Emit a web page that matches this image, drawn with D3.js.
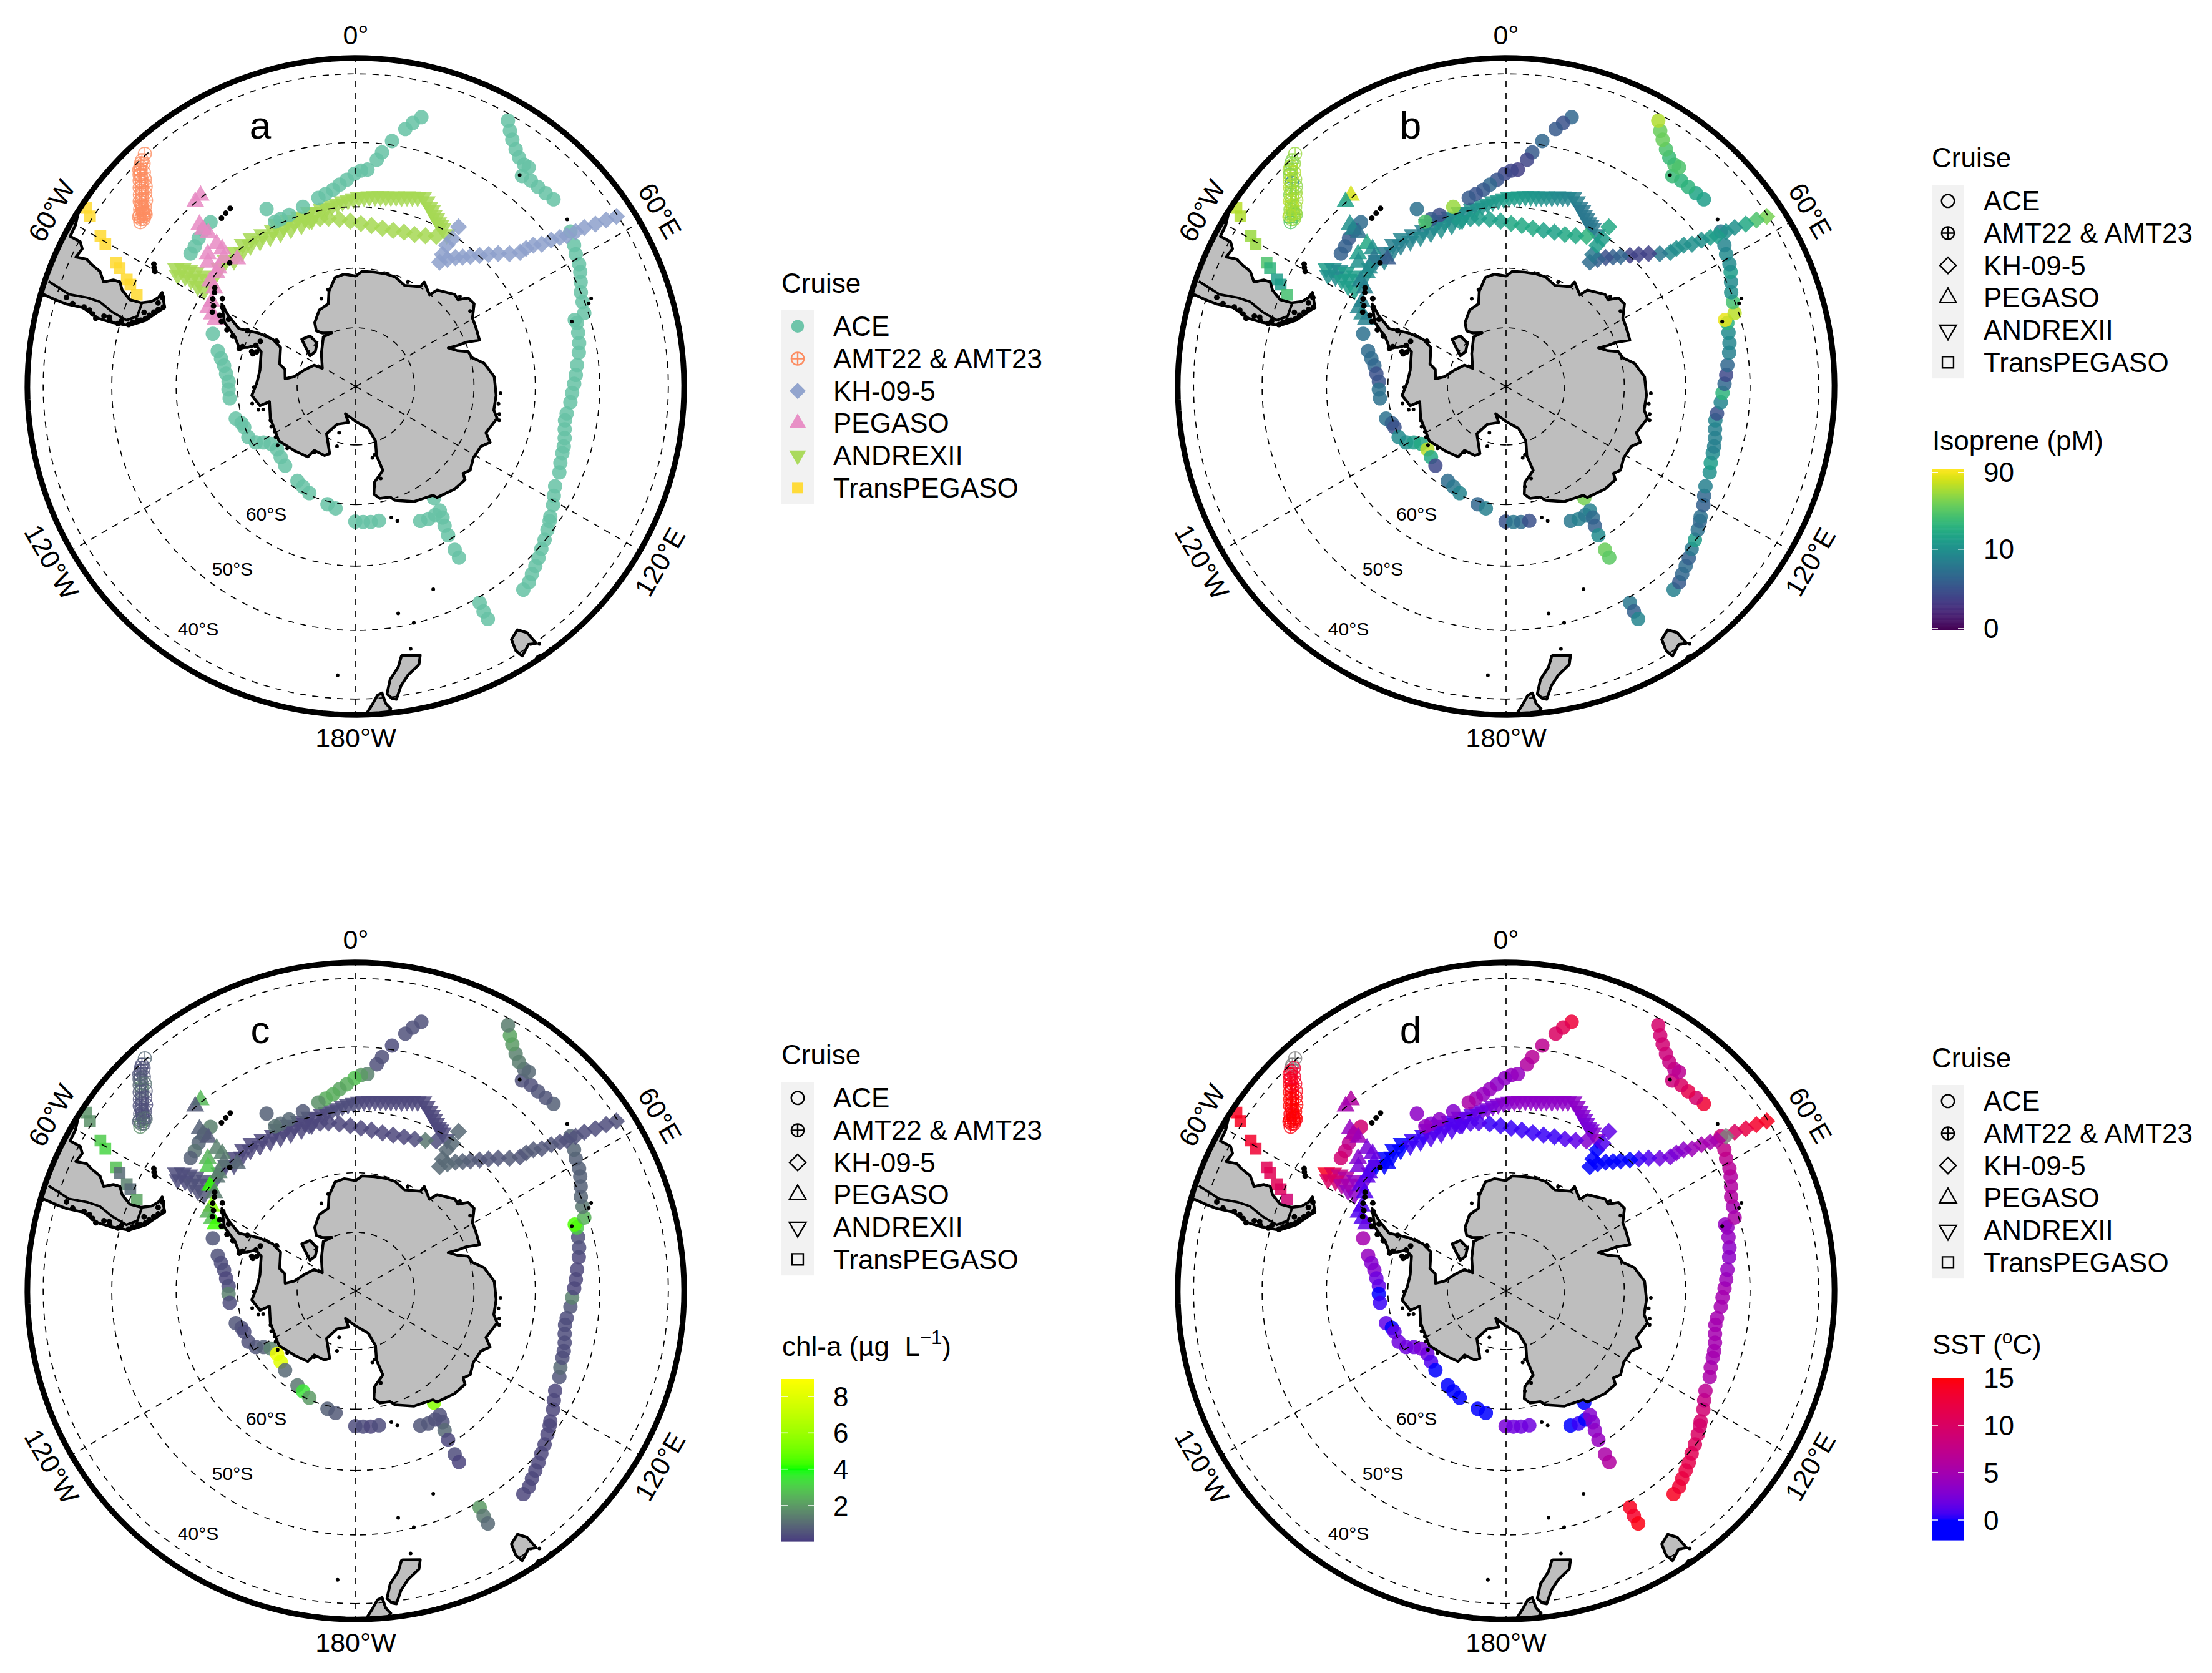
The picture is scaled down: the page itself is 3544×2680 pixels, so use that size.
<!DOCTYPE html>
<html>
<head>
<meta charset="utf-8">
<script src="https://cdn.jsdelivr.net/npm/d3@7"></script>
<style>
  body { margin: 0; background: #fff; }
  text { font-family: "Liberation Sans", Arial, sans-serif; fill: #000; white-space: pre; }
</style>
</head>
<body>
<svg id="chart" width="3544" height="2680"></svg>
<script>
// cruise stations, [lon, lat]
const acePos = [[13.7,-45.1],[12.2,-46.2],[10.9,-47.3],[8.4,-49.4],[6.4,-51.3],[5.3,-52.5],[3.1,-54.1],[1.4,-54.3],[-0.35,-54.8],[-2.5,-55.7],
  [-4.6,-56.4],[-6.6,-57.1],[-8.9,-57.6],[-11.2,-58],[-16.4,-58.8],[-21.2,-59.3],[-24.2,-59.4],[-26.1,-59.4],[-26.7,-57],[-41.5,-53.8],
  [-44.2,-54],[-46.7,-54.3],[-49,-54.7],[-51.2,-54.9],[-69.8,-64.4],[-75.6,-66],[-78.3,-66.8],[-81,-67.5],[-84.4,-68],[-87.8,-68.5],
  [-91.4,-68.5],[-95.4,-68.6],[-105,-69],[-107.9,-69.7],[-110.1,-69.9],[-115.3,-69.9],[-119.3,-70.6],[-121.3,-71.7],[-124.1,-72.6],[-128.7,-72.9],
  [-133.3,-72.5],[-138.3,-72],[-148.3,-71.2],[-152.3,-70.8],[-156.5,-70.3],[-166.5,-69.5],[-170.6,-69.1],[-179.8,-67.2],[176.9,-67.1],[173.7,-67],
  [170.2,-67],[145,-67],[154.4,-64.9],[151.3,-64.6],[148.3,-64.6],[145.9,-64.8],[146.5,-63.6],[147.5,-62.3],[148.2,-60.7],[148.8,-58.2],
  [148.9,-56.8],[150.2,-49.2],[150.4,-47.8],[150.4,-46.5],[140.5,-47.1],[138.5,-47.4],[136.8,-48],[135,-48.5],[133.2,-49],[131.2,-49.6],
  [129.1,-50.1],[126.8,-50.7],[124.8,-51.2],[123.8,-51.5],[121,-52.1],[118.9,-52.7],[116.6,-53.2],[112.9,-53.5],[110.5,-53.9],[107.9,-54.1],
  [106.1,-54.2],[103.9,-54.4],[101.6,-54.7],[99.2,-54.9],[97.3,-54.8],[94.2,-54.4],[91.7,-54.2],[89.3,-53.9],[87,-53.6],[84.5,-53.3],
  [81.4,-52.8],[79,-52.5],[76.4,-52.3],[74,-52.1],[73.1,-52.3],[72.2,-50.6],[69.6,-50.3],[67.3,-50],[65.1,-49.4],[63,-48.8],
  [61.3,-48.4],[59,-48.1],[57.1,-47.6],[54.2,-46.9],
  [46.6,-45.8],[44.5,-46],[42.4,-46.1],[40.4,-46.1],[38.3,-46.4],[38.3,-44.8],[37.2,-44.9],[35.5,-44.5],[34,-43.8],[32.4,-42.9],[31.1,-42],[29.8,-40.9]];
const aceIso = [4,2.5,3,4,3,1.8,1.6,1.8,2,2.6, 4,3,2.6,3,50,2.2,3,28,5,4.5, 2.6,3,3.4,3.4,5,4.5,4.5,4,2.4,2.6, 5,5,5,3.4,2.4,9,10,13,16,63,
  16,2,4.5,6,8,4,7,2.6,6,4.5, 2.4,40,6,7,6,7,4.5,3.4,9,36, 32,6,3.4,8,7,3,4,4.5,3.4,6, 13,5,4,5,3.4,4,7,10,13,9,
  7,7,7,8,2.4,8,20,4,2,4, 7,8,9,20,86,63,26,10,9,13, 9,9,8,6, 13,15,20,20,23,28,28,23,28,36,36,58];
const aceChl = [.5,.5,.5,.4,.5,.5,1.5,2,2.8,2.4, 2.2,2.4,2.4,1.8,.7,1,1,1.2,.8,1.5, .5,.9,1.2,.8,.6,.5,.4,.4,.3,.4, 1.5,.4,.6,.5,.4,.5,.6,.8,1.5,8.5,
  8,1,1.3,3.5,2,.8,.7,.4,.4,.3, .4,5.5,.6,.6,.5,.5,.5,1,.3,.4, .2,2,1.3,1,.3,.3,.3,.3,.3,.3, .3,.3,.3,.3,.3,.3,.3,.6,1,.5,
  .4,.4,.4,.4,.4,.6,1.5,.3,.3,.3, .3,.4,.5,3,4.5,2.5,1.3,.9,.8,.8, .8,.8,.9,.9, .8,.6,.6,.5,.5,1,1,1.4,1.5,2,2.2,1.4];
const aceSst = [12.5,11,10,7,6.5,6,4,4,3.5,3.5, 4,4,4.5,5.5,3,3.5,3,4,3.5,9, 6,7,8,9,5,4,3,3,2,1.5, 0,.5,1.5,-.2,1.5,2,2,2,2.5,2,
  1,0,-.5,-.3,0,0,0,2.5,2,2, 2,-.2,0,.5,0,3,3,3.5,4,5.5, 6,14,13.5,14.5,14,13,12.5,12,11.5,11, 10.5,10,9.5,9.5,9,8,7,5.5,5.5,5,
  5,5,5,5,5,5,5,5,4.5,4, 3.5,3.5,4,4,4,5.5,5,6,6,6, 6.5,7,7.5,9, 13,9.5,11.5,10,8.5,7,7,8,8.5,9,9,9.5];

const amtPos = [[-42.2,-39.8],[-43.4,-40.2],[-43.9,-40.4],[-44.4,-40.7],[-44.9,-41.1],[-45.4,-41.5],[-45.9,-42],[-46.4,-42.4],[-47,-42.8],[-47.5,-43.2],
  [-48.1,-43.6],[-48.7,-44],[-49.4,-44.3],[-49.8,-44.6],[-50.1,-44.9],[-50.4,-45.1],[-50.7,-45.4],[-51,-45.6],[-51.3,-45.9],[-50.7,-45.9],
  [-52,-45.4],[-52.1,-45.8],[-52.7,-46],[-51.7,-46.1],
  [-43.6,-40.7],[-45,-40.9],[-44.7,-41.6],[-45.6,-41.4],[-45.5,-42.4],[-46.4,-42],[-46.4,-43.2],[-47.4,-42.7],[-47.4,-43.8],[-48.4,-43.4],[-48.4,-44.6],[-49.4,-44],[-49.6,-45.1],[-50.6,-44.8],[-50.6,-45.7],[-51.6,-45.3]];
const amtIso = [50,45,40,60,45,60,55,8,50,45,60,55,50,60,65,55,50,45,60,40,50,45,30,50, 48,55,60,42,50,58,46,60,52,44,56,62,50,48,54,58];
const amtChl = [1,.6,.5,.5,.6,.7,1.4,1.5,1,.8,.6,.6,.5,.4,.5,.4,.5,.4,.6,1.2,.8,1.4,1.8,1, .5,.6,.7,.8,1.2,.9,.7,.6,.5,.5,.4,.5,.5,.6,.8,.9];
const amtSst = [null,null,null,13,13.5,14,14,14,14.5,14.5,15,15,15,15,15,14.5,15,15,15,14.5,14.5,15,14.5,14.5, 13,14,13.5,14,14,14.5,14.5,15,14.5,15,15,15,15,14.5,15,15];

const khPos = [[56.9,-40.2],[56.4,-41.7],[55.9,-43.3],[55.2,-44.9],[54.9,-46.3],[54.5,-47.7],[53.9,-48.7],[53.2,-50],[52.6,-51.5],[51.5,-52.6],
  [51,-53.8],[50.8,-54.9],[49.2,-56.3],[47,-57.6],[45.2,-58.8],[43.4,-59.9],[41.4,-61],[39.6,-61.9],[37.7,-62.7],[35.8,-63.7],
  [34,-64.8],[33.3,-63.5],[32.8,-61.9],[32.8,-58.4],[33.2,-60.5]];
const khIso = [40,28,16,10,10,13,13,10,10,10, 10,9,6,1.7,1.7,1.7,4,3.4,2.4,3.4, 4.5,6,13,16,13];
const khChl = [.5,.4,.4,.4,.5,.5,.5,.6,.6,.7, .7,.6,.7,.6,.6,.6,.7,.8,.9,1, 1,1,1,1,1];
const khSst = [14,13.5,12,10,null,6,5,5,4.5,3.5, 3,2.5,2,1,.5,0,0,-.5,-.5,0, -1,0,-.5,1.5,1];

const pegasoPos = [[-39.1,-49.7],[-41,-49.9],[-44,-52.9],[-44.2,-53.8],[-43.9,-54.8],[-44.3,-56.9],[-44.2,-58.1],[-48.2,-57],[-50,-57.9],[-45.8,-59.3],
  [-43,-60.9],[-50.8,-60],[-54.1,-60],[-55.3,-61.2],[-59.6,-62],[-62,-62],[-63.4,-63],[-64.5,-63.9],[-49.3,-59.8]];
const pegasoIso = [75,14,10,8,5,16,10,13,10,6,3,10,8,7,7,8,9,7,9];
const pegasoChl = [2.6,.7,.8,.9,.7,1.5,1.5,2.5,3,1.2,1,1.2,4.2,1.4,5.5,2.5,2.8,4.3,1.5];
const pegasoSst = [6,5,4,5.5,4.5,2.5,2,3,2.5,1.5,-.5,1.5,1.5,1,1,1,1,1.5,1];

const andrexPos = [[-56.7,-54.4],[-55.7,-55.3],[-55.1,-56.3],[-54.5,-57.3],[-57.2,-56.3],[-57.1,-57.4],[-57.6,-58.8],[-57.6,-60],[-53.4,-60.2],[-49.1,-59.9],
  [-45.9,-59.8],[-42.2,-59.8],[-38.5,-59.7],[-35.2,-59.8],[-31.6,-60.2],[-28,-60.5],[-24.3,-60.7],[-20.5,-60.7],[-16.8,-60.7],[-12.9,-60.2],
  [-9.3,-59.8],[-5.8,-59.4],[-2.4,-58.9],[.9,-58.5],[4.1,-58.3],[7.4,-58.1],[10.5,-57.9],[13.6,-57.6],[16.6,-57.1],[19.6,-56.6],
  [22.3,-57.7],[24.5,-58.6],[26.7,-59.4],[28.8,-59.9],[30.9,-60.4],
  [-44,-60.7],[-40.3,-60.6],[-36.8,-60.6],[-33.4,-60.9],[-29.8,-61.2],[-26.1,-61.4],[-22.4,-61.5],[-18.6,-61.5],[-14.8,-61.2],
  [-10.9,-59.9],[-7.5,-59.6],[-4.1,-59.1],[-.7,-58.7],[2.5,-58.4],[5.8,-58.2],[9,-58],[12,-57.7],[15.1,-57.3],[18.1,-56.9],[21,-57.1],[23.4,-58.1],[25.6,-59],[27.7,-59.6],
  [-26,-59.9],[-22,-60.1],[-18.5,-60.1],[-15,-59.9],
  [-58,-55.2],[-55.8,-58.2],[-53.8,-58.8]];
const andrexIso = [13,10,9,13,9,13,13,14,9,9,7,6,7,8,7,7,8,10,10,9,10,11,12,13,13,12,10,9,8,7,6,6,6,6,7,
  8,7,7,8,9,9,10,10,11, 10,11,12,13,13,12,11,10,9,8,7,6,6,6, 8,9,9,10, 10,13,13];
const andrexChl = [.4,.4,.4,.5,.4,.5,.5,.6,.5,.4,.4,.3,.3,.3,.3,.3,.3,.3,.3,.3,.3,.4,.4,.4,.3,.3,.3,.3,.3,.3,.3,.3,.3,.3,.4,
  .4,.3,.3,.3,.3,.3,.3,.3,.3, .3,.4,.4,.4,.3,.3,.3,.3,.3,.3,.3,.3,.3,.3, .3,.3,.3,.3, .4,.5,.5];
const andrexSst = [14,11,8,6,9,6,4,3.5,2.5,1,0,-.5,-.5,0,.5,.5,1,1,1,1.5,2,2.5,3,3,3.5,3.5,3.5,3.5,3.5,3.5,3,2.5,2.5,3,4,
  0,-.5,0,.5,.5,1,1,1,1, 1.5,2,2.5,3,3.5,3.5,3.5,3.5,3.5,3.5,3.5,3,2.5,2.5, 1,1,1,1.5, 10,5,4];

// return leg of the same cruise, plotted as diamonds in the figure
const andrexArmPos = [[28.2,-61.5],[24.8,-62.2],[21.2,-62.7],[17.4,-62.9],[13.5,-63.1],[9.6,-63.1],[5.6,-62.9],[1.8,-62.7],[-1.9,-62.3],[-5.6,-61.9],[-9.2,-61.5],[-12,-61.3],[-15.7,-61.3]];
const andrexArmIso = [20,16,16,14,14,16,16,16,14,14,13,12,12];
const andrexArmChl = [.4,1.3,.4,.3,.3,.3,.3,.3,.3,.3,.3,.3,.3];
const andrexArmSst = [3,1.5,1,.5,.5,.5,.5,.5,.5,.5,1,1,1];

const transPos = [[-56.5,-38.5],[-57.4,-39.6],[-59.5,-42.3],[-60.4,-43.5],[-62.7,-46.2],[-63.4,-47],[-65,-48.7],[-65.7,-49.5],[-67.3,-51]];
const transIso = [63,58,50,50,28,20,13,13,26];
const transChl = [1.8,1.8,3,3.2,2.8,1,1.5,1,2.2];
const transSst = [14,14,13.5,13,11,11,11,10.5,9];

// coastlines, [lon, lat]
const antarctica = [[0,-71.3],[3.1,-70.5],[9.3,-70.4],[14.5,-70.3],[19.8,-70.3],[25.8,-71],[32.9,-69.9],[33.3,-68.9],[38.8,-70.1],[40.2,-68.7],
  [47.1,-67.2],[49.6,-67.4],[51.8,-65.9],[55.1,-65.7],[59.7,-67.2],[63.5,-67.4],[69.5,-67.7],[68.2,-69.9],[68.1,-71.4],[67.4,-73],[70.7,-71.7],
  [72.8,-70.1],[76.2,-69.7],[79.7,-68],[86,-66.6],[93.6,-66.3],[99.7,-66.4],[102.7,-65.6],[109.6,-66.7],[112.6,-65.5],[115.6,-66.6],[121.3,-66.8],
  [126.2,-66.1],[129,-66.7],[130.5,-65.8],[136.1,-66],[143.8,-66.8],[144.7,-67.5],[153.1,-68.2],[160.9,-69.6],[162.8,-70.4],[167.9,-70.6],[170.4,-71.5],
  [169,-73.4],[162.1,-75],[163.3,-77.7],[160.1,-80.1],[163.5,-82.5],[180,-84],[-159.3,-85],[-168.5,-83.7],[-153.8,-82.8],[-148.4,-80.5],[-158.8,-77.7],
  [-155.7,-77.1],[-147,-77],[-145.8,-75.5],[-136.3,-74.9],[-125.4,-74],[-110.5,-74.5],[-100,-75.1],[-101.4,-73.4],[-94.9,-72.3],[-87.9,-73.2],[-80.5,-73.5],
  [-69.8,-72.9],[-67.7,-71.7],[-70.2,-70.5],[-71.6,-69.2],[-67.8,-68],[-64,-65.4],[-58.4,-63.6],[-61.1,-65.6],[-63.7,-68],[-61.3,-71.2],[-60.4,-73.8],
  [-62.6,-75.6],[-73.6,-76.5],[-76.5,-77.6],[-83.8,-77.9],[-80.9,-79.4],[-72.9,-80.7],[-63,-82],[-61.5,-83.5],[-46.4,-81.9],[-33.2,-79.9],[-24.1,-80],
  [-31.9,-79.3],[-35.4,-78.4],[-32.8,-77.1],[-25.5,-75.6],[-18.4,-75.2],[-15.7,-73.2],[-10.7,-71.2],[-5.8,-70.9]];
const berkner = [[-48.9,-77.8],[-42.2,-78.4],[-41.8,-80.1],[-49.4,-80.9],[-56.2,-80.6],[-52.1,-79.2]];
const southAmerica = [[-60,-36],[-57.4,-37.8],[-60.1,-38.5],[-62.3,-38.6],[-62.3,-40.2],[-63.3,-40.9],[-65.2,-40.6],[-64.7,-42.1],[-65.2,-43],[-65.8,-44.6],[-67.5,-45.7],
  [-66.3,-46.9],[-66.1,-47.9],[-67.6,-48.7],[-69,-50.3],[-68.7,-52.1],[-67.4,-53.5],[-65.8,-54.2],[-64.1,-54.4],[-67.5,-55.7],[-72.6,-53.6],[-75,-51.4],
  [-75.3,-48.8],[-75.2,-46.6],[-73.9,-44.1],[-74.1,-41.7],[-73.9,-39.9],[-73.6,-38.3],[-74.4,-37.7],[-72,-36]];
const chileLine = [[-71.1,-38.3],[-72.2,-41.6],[-71.7,-44.3],[-71.7,-46.2],[-73,-48.4],[-73.9,-50.8],[-72.2,-52.2],[-68.9,-52.2]];
const nzSouth = [[170.1,-45.7],[166.5,-45.2],[167.2,-43.9],[169.8,-42.7],[171.4,-41.4],[172.6,-39.6],[173.4,-39.8],[174.2,-40.5],[173.3,-42.5],[171.4,-44.1],[170.4,-45.6]];
const nzNorth = [[175.1,-40.7],[174.6,-39.2],[173.8,-38.4],[174.9,-37.4],[178.5,-37.5],[177,-39.2],[176,-40.4]];
const tasmania = [[146.4,-42.9],[145.2,-41.8],[144.9,-39.8],[146.2,-40.3],[148.3,-39.4],[148.8,-40.5],[148.4,-42.2]];
const australia = [[143.3,-38.1],[144.6,-37.9],[146,-38.2],[147.3,-37.8],[146,-36],[142,-36]];

// heavy rocky coast: Patagonia, Scotia arc, Peninsula and the Amundsen shore
const isletsChain = [[-72.9,-41.4],[-73.7,-42.5],[-73.7,-44.2],[-74,-45.1],[-74.6,-45.7],[-75.3,-46.3],[-74.4,-47.4],[-75,-48.4],[-74.3,-48.2],[-75.2,-49.7],[-74.4,-50.1],
  [-74.8,-51.3],[-74,-51.8],[-73.2,-52.4],[-72.1,-53.5],[-71,-53.9],[-69.8,-54.4],[-68.7,-54.9],[-67.6,-55.5],[-67.1,-54.5],[-65.3,-54.8],[-70.7,-53],[-72.9,-52.9],
  [-59.5,-51.5],[-58.8,-51.2],[-60.2,-51.9],
  [-36.9,-54.2],[-35.2,-54],[-38.6,-54.4],[-45.6,-60.5],[-55,-61.2],[-56.4,-61.6],
  [-58.5,-61.9],[-60.5,-62.6],[-62.6,-62.9],[-56.6,-63.2],[-59.2,-64],[-62.4,-64.2],[-64.2,-64.9],[-62.2,-65.8],[-66.3,-66.3],[-67.7,-67.6],[-70.6,-69.7],
  [-72,-69.3],[-71.5,-71.4],[-67.7,-71.7],[-62.8,-69.4],[-64.7,-72.1],[-60.3,-74.5],
  [-72.4,-71.7],[-70.8,-72.2]];
const isletsSmall = [[-90.4,-72.7],[-99.4,-72.2],[-103.5,-73],[-104,-73.8],[-111.7,-74.4],[-115.5,-74.1],[-119.2,-74.2],[-122.3,-73.9],[-127,-73.4],[-132.1,-74.3],[-147.8,-76.7],
  [-162.6,-79.3],[-160.2,-81.6],[166.9,-77.5],[164.6,-77.9],[164.8,-73.8],[169.4,-72.7],[49.2,-66.8],[56.6,-66.9],[26.5,-70.3],[-15.9,-72.9],[-21.4,-74],
  [92.7,-65.6],[96.9,-65.8],[100.9,-65.4],[103.3,-65.2],[164.8,-67.1],[162.8,-66.3],[69.5,-48.9],[70.4,-49.5],[73.3,-52.8],[37.8,-46.5],[51.7,-46.2],
  [159.1,-54.1],[169.4,-52],[166.2,-50.1],[168.2,-46.4],[-176.4,-43.3],[144.5,-39.5]];

// graticule labels
const lonLabels = [[0,"0°",0],[60,"60°E",60],[120,"120°E",-60],[180,"180°W",0],[-120,"120°W",60],[-60,"60°W",-60]];
const latLabels = [["60°S",-145,-63.8],["50°S",-146,-53.6],["40°S",-147,-43.3]];

const cruiseNames = ["ACE","AMT22 & AMT23","KH-09-5","PEGASO","ANDREXII","TransPEGASO"];
const cruiseColors = d3.schemeSet2.slice(0, 6);

// colour scales
const isoBar = d3.scaleLog().domain([1.255, 100.8]).range([0, 1]);
const chlColor = d3.scaleLinear().domain([0, 4, 9]).range(["#463a80", "#00ff00", "#ffff00"]).interpolate(d3.interpolateLab).clamp(true);
const sstColor = d3.scaleLinear().domain([0, 15]).range(["#0000ff", "#ff0000"]).interpolate(d3.interpolateLab).clamp(true);
const colorFns = {
  iso: v => d3.interpolateViridis(isoBar(v + 1.3)),
  chl: v => chlColor(v),
  sst: v => v === null ? "#7f7f7f" : sstColor(v)
};

// marks
const tau = Math.PI * 2;
const amtSymbol = {
  draw(ctx, size) {
    const r = Math.sqrt(size / Math.PI);
    ctx.moveTo(r, 0);
    ctx.arc(0, 0, r, 0, tau);
    ctx.moveTo(-r, 0); ctx.lineTo(r, 0);
    ctx.moveTo(0, -r); ctx.lineTo(0, r);
  }
};
const shapes = {
  circle: { path: d3.symbol(d3.symbolCircle, 415)(), rot: 0 },
  amt: { path: d3.symbol(amtSymbol, 345)(), rot: 0 },
  diamond: { path: d3.symbol(d3.symbolSquare, 380)(), rot: 45 },
  up: { path: d3.symbol(d3.symbolTriangle, 360)(), rot: 0 },
  down: { path: d3.symbol(d3.symbolTriangle, 360)(), rot: 180 },
  square: { path: d3.symbol(d3.symbolSquare, 350)(), rot: 0 }
};
const keyShapes = {
  circle: { path: d3.symbol(d3.symbolCircle, 330)(), rot: 0 },
  amt: { path: d3.symbol(amtSymbol, 320)(), rot: 0 },
  diamond: { path: d3.symbol(d3.symbolSquare, 338)(), rot: 45 },
  up: { path: d3.symbol(d3.symbolTriangle, 316)(), rot: 0 },
  down: { path: d3.symbol(d3.symbolTriangle, 316)(), rot: 180 },
  square: { path: d3.symbol(d3.symbolSquare, 320)(), rot: 0 }
};
const legendShapes = ["circle","amt","diamond","up","down","square"];

// draw order follows the figure
const series = [
  { cruise: 4, shape: "down", pos: andrexPos, iso: andrexIso, chl: andrexChl, sst: andrexSst },
  { cruise: 4, shape: "diamond", pos: andrexArmPos, iso: andrexArmIso, chl: andrexArmChl, sst: andrexArmSst },
  { cruise: 0, shape: "circle", pos: acePos, iso: aceIso, chl: aceChl, sst: aceSst },
  { cruise: 1, shape: "amt", pos: amtPos, iso: amtIso, chl: amtChl, sst: amtSst },
  { cruise: 2, shape: "diamond", pos: khPos, iso: khIso, chl: khChl, sst: khSst },
  { cruise: 3, shape: "up", pos: pegasoPos, iso: pegasoIso, chl: pegasoChl, sst: pegasoSst },
  { cruise: 5, shape: "square", pos: transPos, iso: transIso, chl: transChl, sst: transSst }
];

const svg = d3.select("#chart");

function drawMap(letter, cx, cy, varName) {
  const g = svg.append("g");
  const projection = d3.geoStereographic()
    .rotate([0, 90])
    .scale(1074)
    .translate([cx, cy])
    .clipAngle(52.2)
    .precision(0.3);
  const geo = d3.geoPath(projection);
  const sphere = { type: "Sphere" };

  const clipId = "clip-" + letter;
  g.append("clipPath").attr("id", clipId).append("path").attr("d", geo(sphere));
  const inner = g.append("g").attr("clip-path", `url(#${clipId})`);

  // stations
  series.forEach(s => {
    const shape = shapes[s.shape];
    inner.append("g").selectAll("path")
      .data(s.pos)
      .join("path")
      .attr("d", shape.path)
      .attr("transform", d => {
        const p = projection(d);
        return `translate(${p[0]},${p[1]}) rotate(${shape.rot})`;
      })
      .each(function(d, i) {
        const col = varName ? colorFns[varName](s[varName][i]) : cruiseColors[s.cruise];
        const el = d3.select(this);
        if (s.shape === "amt") {
          el.attr("fill", "none").attr("stroke", col).attr("stroke-width", 1.7).attr("stroke-opacity", 0.8);
        } else {
          el.attr("fill", col).attr("fill-opacity", 0.85);
        }
      });
  });

  // land
  const line = d3.line().x(d => projection(d)[0]).y(d => projection(d)[1]);
  [antarctica, berkner, southAmerica, nzSouth, nzNorth, tasmania, australia].forEach(poly => {
    inner.append("path")
      .attr("d", line(poly) + "Z")
      .attr("fill", "#bebebe")
      .attr("stroke", "#000")
      .attr("stroke-width", 4.5)
      .attr("stroke-linejoin", "round");
  });
  inner.append("path").attr("d", line(chileLine)).attr("fill", "none").attr("stroke", "#000").attr("stroke-width", 4);
  [[isletsChain, 4.5], [isletsSmall, 3]].forEach(([pts, rad]) => {
    inner.append("g").selectAll("circle")
      .data(pts)
      .join("circle")
      .attr("cx", d => projection(d)[0])
      .attr("cy", d => projection(d)[1])
      .attr("r", rad)
      .attr("fill", "#000");
  });

  // graticule
  const graticule = d3.geoGraticule().extent([[-180, -90], [180.01, -30]]).step([60, 10]).precision(2);
  inner.append("path")
    .attr("d", geo(graticule()))
    .attr("fill", "none")
    .attr("stroke", "#000")
    .attr("stroke-width", 1.7)
    .attr("stroke-dasharray", "10,10");

  // outer ring
  g.append("path")
    .attr("d", geo(sphere))
    .attr("fill", "none")
    .attr("stroke", "#000")
    .attr("stroke-width", 9);

  // labels
  lonLabels.forEach(([lon, txt, rot]) => {
    const p = projection([lon, -34.7]);
    g.append("text")
      .attr("transform", `translate(${p[0]},${p[1]}) rotate(${rot})`)
      .attr("text-anchor", "middle")
      .attr("dominant-baseline", "central")
      .attr("font-size", 43)
      .text(txt);
  });
  latLabels.forEach(([txt, lon, lat]) => {
    const p = projection([lon, lat]);
    g.append("text")
      .attr("x", p[0]).attr("y", p[1])
      .attr("text-anchor", "middle")
      .attr("dominant-baseline", "central")
      .attr("font-size", 30)
      .text(txt);
  });
  g.append("text")
    .attr("x", cx - 153).attr("y", cy - 397)
    .attr("text-anchor", "middle")
    .attr("font-size", 62)
    .text(letter);
}

function drawCruiseLegend(x, top, filled) {
  const rowH = 51.7;
  const g = svg.append("g");
  g.append("text").attr("x", x).attr("y", top - 28).attr("font-size", 44).text("Cruise");
  g.append("rect").attr("x", x).attr("y", top).attr("width", 52).attr("height", rowH * 6).attr("fill", "#f2f2f2");
  cruiseNames.forEach((name, i) => {
    const y = top + rowH * (i + 0.5);
    const shape = keyShapes[legendShapes[i]];
    const key = g.append("path")
      .attr("d", shape.path)
      .attr("transform", `translate(${x + 26},${y}) rotate(${shape.rot})`);
    if (filled && i !== 1) {
      key.attr("fill", cruiseColors[i]).attr("fill-opacity", 0.95);
    } else {
      key.attr("fill", "none")
        .attr("stroke", filled ? cruiseColors[i] : "#000")
        .attr("stroke-width", 2.4);
    }
    g.append("text")
      .attr("x", x + 83).attr("y", y)
      .attr("dominant-baseline", "central")
      .attr("font-size", 44)
      .text(name);
  });
}

function drawColorBar(x, top, bottom, scale, color, ticks, title, titleY) {
  const g = svg.append("g");
  const n = 130;
  const rows = d3.range(n);
  const rowH = (bottom - top) / n;
  g.append("g").selectAll("rect")
    .data(rows)
    .join("rect")
    .attr("x", x).attr("width", 52)
    .attr("y", i => top + i * rowH).attr("height", rowH + 0.6)
    .attr("fill", i => color(scale.invert(top + (i + 0.5) * rowH)));
  ticks.forEach(t => {
    const y = scale(t);
    g.append("line").attr("x1", x).attr("x2", x + 10).attr("y1", y).attr("y2", y).attr("stroke", "#fff").attr("stroke-width", 1.5);
    g.append("line").attr("x1", x + 42).attr("x2", x + 52).attr("y1", y).attr("y2", y).attr("stroke", "#fff").attr("stroke-width", 1.5);
    g.append("text")
      .attr("x", x + 83).attr("y", y)
      .attr("dominant-baseline", "central")
      .attr("font-size", 44)
      .text(t);
  });
  title(g.append("text").attr("x", x + 1).attr("y", titleY).attr("font-size", 44));
}

drawMap("a", 570, 619, null);
drawMap("b", 2413, 619, "iso");
drawMap("c", 570, 2068, "chl");
drawMap("d", 2413, 2068, "sst");

drawCruiseLegend(1252, 497, true);
drawCruiseLegend(3095, 296, false);
drawCruiseLegend(1252, 1733, false);
drawCruiseLegend(3095, 1738, false);

// isoprene bar, log-like spacing
const isoAxis = v => 1009 - 258 * isoBar(v + 1.3);
isoAxis.invert = y => isoBar.invert((1009 - y) / 258) - 1.3;
drawColorBar(3095, 751, 1009, isoAxis, colorFns.iso, [0, 10, 90], t => t.text("Isoprene (pM)"), 721);

const chlAxis = d3.scaleLinear().domain([2, 8]).range([2412, 2237]);
drawColorBar(1252, 2209, 2469, chlAxis, colorFns.chl, [2, 4, 6, 8], t => {
  t.append("tspan").text("chl-a (µg\u00a0\u00a0L");
  t.append("tspan").attr("dy", -19).attr("font-size", 31).text("\u22121");
  t.append("tspan").attr("dy", 19).text(")");
}, 2172);

const sstAxis = d3.scaleLinear().domain([0, 15]).range([2435, 2207]);
drawColorBar(3095, 2207, 2467, sstAxis, colorFns.sst, [0, 5, 10, 15], t => {
  t.append("tspan").text("SST (");
  t.append("tspan").attr("dy", -17).attr("font-size", 30).text("o");
  t.append("tspan").attr("dy", 17).text("C)");
}, 2169);
</script>
</body>
</html>
